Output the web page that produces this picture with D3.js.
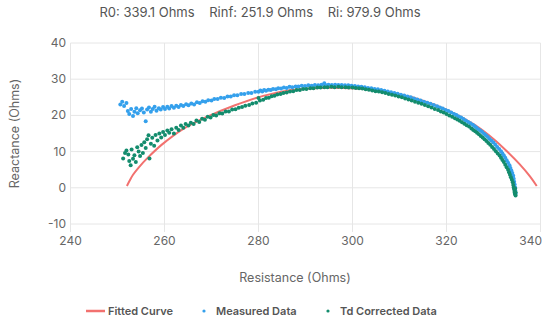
<!DOCTYPE html>
<html>
<head>
<meta charset="utf-8">
<script src="https://cdn.jsdelivr.net/npm/d3@7"></script>
<style>
  html, body { margin: 0; padding: 0; background: #fff; }
  svg { display: block; font-family: Inter, "Noto Sans", sans-serif; }
</style>
</head>
<body>
<svg id="chart" width="542" height="322"></svg>
<script>
// Fit parameters shown in the header
const fitParams = [
  { name: "R0", value: 339.1 },
  { name: "Rinf", value: 251.9 },
  { name: "Ri", value: 979.9 }
];

const xTicks = [240, 260, 280, 300, 320, 340];
const yTicks = [-10, 0, 10, 20, 30, 40];

// Fitted Cole arc (resistance, reactance)
const fitR = [252.0, 252.6, 253.3, 254.5, 256.5, 259.5, 264.0, 269.0, 275.0, 281.0, 287.0, 293.0, 298.0,
  303.0, 308.0, 314.0, 320.0, 326.0, 330.0, 333.0, 335.5, 337.8, 339.2];
const fitX = [0.5, 2.0, 3.6, 5.6, 8.4, 12.0, 16.3, 19.6, 22.8, 25.4, 27.0, 27.6, 27.6,
  27.2, 26.3, 24.5, 21.6, 17.4, 13.5, 9.9, 6.6, 3.1, 0.5];

// Raw measured impedance
const measuredR = [250.6, 251.0, 251.4, 251.9, 252.2, 252.5, 252.9, 253.3, 253.6, 254.0, 254.3, 254.8, 255.2, 255.6,
  256.0, 256.3, 256.7, 257.1, 257.5, 257.9, 258.3, 258.8, 259.2, 259.7, 260.1, 260.6, 261.0, 261.5, 262.0, 262.5,
  263.0, 263.5, 264.0, 264.6, 265.1, 265.7, 266.3, 266.9, 267.5, 268.1, 268.7, 269.3, 270.0, 270.6, 271.3, 272.0,
  272.7, 273.4, 274.1, 274.8, 275.5, 276.3, 277.0, 277.8, 278.5, 279.3, 280.0, 280.4, 280.8, 281.2, 281.6, 282.1,
  282.6, 283.1, 283.7, 284.2, 284.8, 285.4, 286.0, 286.6, 287.2, 287.9, 288.5, 289.2, 289.9, 290.6, 291.3, 292.0,
  292.7, 293.4, 294.0, 294.2, 294.9, 295.6, 296.3, 297.0, 297.7, 298.4, 299.1, 299.8, 300.5, 301.2, 301.9, 302.6,
  303.3, 304.0, 304.7, 305.4, 306.1, 306.8, 307.5, 308.2, 308.9, 309.6, 310.3, 311.0, 311.7, 312.4, 313.1, 313.8,
  314.5, 315.2, 315.9, 316.6, 317.3, 318.0, 318.6, 319.2, 319.8, 320.4, 321.0, 321.6, 322.1, 322.6, 323.1, 323.6,
  324.1, 324.6, 325.1, 325.6, 326.0, 326.4, 326.8, 327.2, 327.6, 328.0, 328.4, 328.8, 329.2, 329.6, 330.0, 330.4,
  330.8, 331.2, 331.6, 331.9, 332.2, 332.5, 332.8, 333.1, 333.4, 333.6, 333.8, 334.0, 334.2, 334.3, 334.4, 334.5,
  334.6, 334.6, 334.7];
const measuredX = [23.0, 23.8, 22.6, 23.4, 21.2, 20.4, 21.8, 19.8, 21.0, 22.0, 20.6, 21.4, 21.9, 20.8,
  18.4, 21.6, 22.2, 21.0, 21.8, 22.4, 21.3, 22.0, 21.6, 22.3, 21.8, 22.4, 21.9, 22.6, 22.1, 22.7,
  22.3, 22.9, 22.6, 23.1, 22.8, 23.3, 23.0, 23.6, 23.4, 23.9, 23.8, 24.2, 24.1, 24.5, 24.5, 24.9,
  24.8, 25.2, 25.2, 25.6, 25.6, 25.9, 25.9, 26.2, 26.2, 26.5, 26.5, 26.9, 26.6, 27.0, 26.8, 27.1,
  27.0, 27.3, 27.2, 27.5, 27.4, 27.7, 27.6, 27.9, 27.8, 28.0, 28.0, 28.2, 28.1, 28.3, 28.2, 28.4,
  28.3, 28.5, 28.9, 28.4, 28.5, 28.4, 28.5, 28.4, 28.4, 28.3, 28.3, 28.2, 28.1, 28.0, 27.9, 27.8,
  27.6, 27.5, 27.3, 27.2, 27.0, 26.8, 26.6, 26.4, 26.2, 26.0, 25.7, 25.5, 25.2, 25.0, 24.7, 24.4,
  24.1, 23.8, 23.5, 23.2, 22.9, 22.5, 22.2, 21.9, 21.5, 21.2, 20.8, 20.4, 20.1, 19.7, 19.4, 19.0,
  18.6, 18.2, 17.8, 17.4, 17.0, 16.6, 16.2, 15.8, 15.4, 14.9, 14.5, 14.0, 13.5, 13.0, 12.5, 11.9,
  11.3, 10.7, 10.1, 9.5, 8.9, 8.3, 7.6, 6.9, 6.2, 5.5, 4.8, 4.1, 3.3, 2.5, 1.7, 0.9,
  0.1, -0.7, -1.5];

// Time-delay corrected impedance
const correctedR = [251.2, 251.6, 251.9, 252.3, 252.5, 252.8, 253.0, 253.3, 253.6, 253.9, 254.2, 254.5, 254.8, 255.1,
  255.4, 255.7, 256.0, 256.3, 256.6, 256.8, 257.1, 257.4, 257.8, 258.1, 258.5, 258.9, 259.3, 259.7, 260.1, 260.6,
  261.0, 261.5, 262.0, 262.5, 263.0, 263.5, 264.0, 264.5, 265.1, 265.6, 266.2, 266.8, 267.4, 268.0, 268.6, 269.2,
  269.8, 270.4, 271.0, 271.7, 272.3, 273.0, 273.7, 274.4, 275.1, 275.8, 276.5, 277.2, 278.0, 278.7, 279.5, 280.0,
  280.3, 281.0, 281.6, 282.2, 282.8, 283.4, 284.0, 284.7, 285.3, 286.0, 286.7, 287.4, 288.1, 288.8, 289.5, 290.2,
  291.0, 291.7, 292.5, 293.2, 294.0, 294.7, 295.5, 296.2, 297.0, 297.7, 298.5, 299.2, 300.0, 300.7, 301.4, 302.1,
  302.8, 303.5, 304.2, 304.9, 305.6, 306.3, 307.0, 307.7, 308.4, 309.1, 309.8, 310.5, 311.2, 311.9, 312.6, 313.3,
  314.0, 314.7, 315.4, 316.1, 316.8, 317.5, 318.2, 318.8, 319.4, 320.0, 320.6, 321.2, 321.8, 322.3, 322.8, 323.3,
  323.8, 324.3, 324.8, 325.3, 325.7, 326.1, 326.5, 326.9, 327.3, 327.7, 328.1, 328.5, 328.9, 329.3, 329.7, 330.1,
  330.5, 330.9, 331.3, 331.6, 331.9, 332.2, 332.5, 332.8, 333.1, 333.3, 333.5, 333.7, 333.9, 334.1, 334.2, 334.3,
  334.4, 334.5, 334.5, 334.6, 334.6, 334.7, 334.7];
const correctedX = [8.1, 9.6, 10.3, 9.2, 7.4, 6.2, 10.6, 8.0, 9.0, 7.1, 11.2, 10.0, 8.8, 11.8,
  9.6, 12.6, 11.0, 13.4, 14.5, 8.1, 12.2, 13.8, 11.6, 14.6, 13.1, 15.0, 13.9, 15.4, 14.6, 15.8,
  15.2, 16.2, 15.0, 16.6, 16.0, 17.2, 16.6, 17.6, 17.2, 18.0, 17.6, 18.6, 18.2, 19.1, 18.8, 19.6,
  19.4, 20.1, 20.0, 20.6, 20.5, 21.1, 21.1, 21.6, 21.7, 22.1, 22.3, 22.7, 22.9, 23.3, 23.5, 24.8,
  24.1, 24.3, 24.8, 24.9, 25.3, 25.4, 25.8, 25.9, 26.2, 26.3, 26.6, 26.7, 27.0, 27.0, 27.3, 27.3,
  27.5, 27.5, 27.7, 27.7, 27.8, 27.8, 27.9, 27.8, 27.9, 27.8, 27.8, 27.7, 27.7, 27.6, 27.5, 27.4,
  27.2, 27.1, 26.9, 26.7, 26.6, 26.4, 26.2, 25.9, 25.7, 25.5, 25.2, 25.0, 24.7, 24.4, 24.1, 23.8,
  23.5, 23.2, 22.9, 22.5, 22.2, 21.8, 21.5, 21.1, 20.8, 20.4, 20.0, 19.6, 19.2, 18.9, 18.5, 18.1,
  17.7, 17.3, 16.9, 16.4, 16.0, 15.6, 15.2, 14.8, 14.3, 13.9, 13.4, 12.9, 12.4, 11.9, 11.3, 10.7,
  10.1, 9.5, 8.9, 8.3, 7.7, 7.1, 6.4, 5.7, 5.0, 4.3, 3.6, 2.9, 2.2, 1.5, 0.8, 0.1,
  -0.5, -1.0, -1.4, -0.2, -1.8, -1.2, -2.1];

const legendItems = ["Fitted Curve", "Measured Data", "Td Corrected Data"];
const colors = { fit: "#f2716f", measured: "#34a0ec", corrected: "#138c6d" };

const svg = d3.select("#chart");
const x = d3.scaleLinear().domain([240, 340]).range([70.5, 540.5]);
const y = d3.scaleLinear().domain([-10, 40]).range([224, 43]);

// Grid
const grid = svg.append("g").attr("stroke", "#e6e6e6").attr("stroke-width", 1);
grid.selectAll("line.v").data(xTicks).join("line")
  .attr("x1", d => x(d)).attr("x2", d => x(d))
  .attr("y1", y(40)).attr("y2", y(-10) + 8);
grid.selectAll("line.h").data(yTicks).join("line")
  .attr("x1", x(240)).attr("x2", x(340))
  .attr("y1", d => y(d)).attr("y2", d => y(d));

// Tick labels
svg.append("g").selectAll("text").data(xTicks).join("text")
  .attr("x", (d, i) => i === xTicks.length - 1 ? 542 : x(d))
  .attr("y", 245)
  .attr("text-anchor", (d, i) => i === xTicks.length - 1 ? "end" : "middle")
  .attr("font-size", 12).attr("fill", "#666")
  .text(d => d);
svg.append("g").selectAll("text").data(yTicks).join("text")
  .attr("x", 66).attr("y", d => y(d) + 4)
  .attr("text-anchor", "end")
  .attr("font-size", 12).attr("fill", "#666")
  .text(d => d);

// Axis titles
svg.append("text").attr("x", 295).attr("y", 282).attr("text-anchor", "middle")
  .attr("font-size", 12.5).attr("fill", "#666").text("Resistance (Ohms)");
svg.append("text").attr("transform", `translate(19,${(y(40) + y(-10)) / 2}) rotate(-90)`)
  .attr("text-anchor", "middle").attr("font-size", 12.5).attr("fill", "#666").text("Reactance (Ohms)");

// Header
svg.append("text").attr("x", 260).attr("y", 17).attr("text-anchor", "middle")
  .attr("font-size", 13).attr("fill", "#555").style("white-space", "pre")
  .text(fitParams.map(p => `${p.name}: ${p.value.toFixed(1)} Ohms`).join("    "));

// Fitted curve
const fitPts = fitR.map((r, i) => [r, fitX[i]]);
svg.append("path").datum(fitPts)
  .attr("fill", "none").attr("stroke", colors.fit).attr("stroke-width", 2)
  .attr("d", d3.line().x(d => x(d[0])).y(d => y(d[1])).curve(d3.curveCatmullRom.alpha(0.5)));

// Scatter series
function dots(rs, xs, color) {
  svg.append("g").attr("fill", color).selectAll("circle")
    .data(rs.map((r, i) => [r, xs[i]])).join("circle")
    .attr("cx", d => x(d[0])).attr("cy", d => y(d[1])).attr("r", 2);
}
dots(measuredR, measuredX, colors.measured);
dots(correctedR, correctedX, colors.corrected);

// Legend
const lg = svg.append("g").attr("font-size", 11).attr("font-weight", 600).attr("fill", "#555");
lg.append("line").attr("x1", 86).attr("x2", 105).attr("y1", 311).attr("y2", 311)
  .attr("stroke", colors.fit).attr("stroke-width", 2.5);
lg.append("text").attr("x", 108).attr("y", 315).text(legendItems[0]);
lg.append("circle").attr("cx", 204).attr("cy", 311).attr("r", 1.6).attr("fill", colors.measured);
lg.append("text").attr("x", 216).attr("y", 315).text(legendItems[1]);
lg.append("circle").attr("cx", 328).attr("cy", 311).attr("r", 1.6).attr("fill", colors.corrected);
lg.append("text").attr("x", 340).attr("y", 315).text(legendItems[2]);
</script>
</body>
</html>
